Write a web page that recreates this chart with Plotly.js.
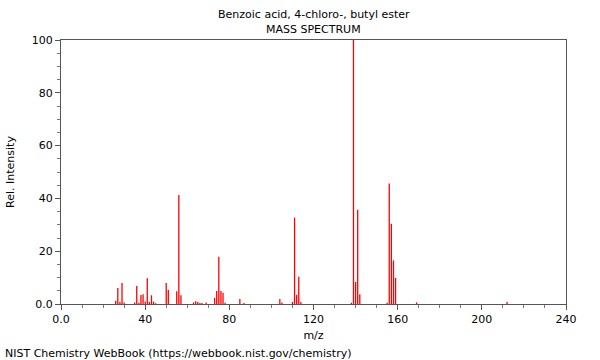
<!DOCTYPE html>
<html>
<head>
<meta charset="utf-8">
<script src="https://cdn.plot.ly/plotly-3.0.1.min.js"></script>
<style>
html,body{margin:0;padding:0;background:#fff;}
#chart{width:600px;height:360px;}
</style>
</head>
<body>
<div id="chart"></div>
<script>
const chartTitle = "Benzoic acid, 4-chloro-, butyl ester";
const chartSubtitle = "MASS SPECTRUM";
const footerText = "NIST Chemistry WebBook (https://webbook.nist.gov/chemistry)";
const xLabel = "m/z";
const yLabel = "Rel. Intensity";

const mz = [26,27,28,29,30,35,36,37,38,39,40,41,42,43,44,45,50,51,55,56,57,63,64,65,66,67,69,73,74,75,76,77,78,85,87,104,105,110,111,112,113,114,138,139,140,141,142,155,156,157,158,159,169,212];
const intensity = [1.2,6.1,0.8,8.0,0.6,0.6,6.8,0.5,3.4,3.7,0.9,9.8,0.8,3.3,0.9,0.3,8.0,5.3,4.8,41.3,3.3,0.6,1.0,0.8,0.4,0.4,0.6,2.3,4.9,17.9,4.9,4.3,0.5,1.9,0.4,1.9,0.6,0.8,32.7,3.5,10.3,0.8,0.5,100,8.4,35.7,3.7,0.5,45.6,30.4,16.5,9.9,0.6,0.8];

// Stick spectrum: each peak drawn as a vertical segment from 0 to its intensity
const stickX = [], stickY = [];
mz.forEach((m, i) => { stickX.push(m, m, null); stickY.push(0, intensity[i], null); });

const trace = {
  type: 'scatter',
  mode: 'lines',
  x: stickX,
  y: stickY,
  line: {color: '#ff0000', width: 1.3},
  connectgaps: false,
  hoverinfo: 'x+y'
};

const font = {family: 'DejaVu Sans, sans-serif', size: 11, color: '#000'};

const layout = {
  width: 600, height: 360,
  margin: {l: 61, r: 34, t: 40, b: 56},
  paper_bgcolor: '#fff', plot_bgcolor: '#fff',
  font: font,
  showlegend: false,
  xaxis: {
    range: [0, 240],
    tickmode: 'linear', tick0: 0, dtick: 40,
    labelalias: {'0': '0.0'},
    ticks: 'outside', ticklen: 5, tickcolor: '#555', tickwidth: 1,
    minor: {dtick: 10, tick0: 0, ticks: 'outside', ticklen: 3, tickcolor: '#777'},
    showline: true, linecolor: '#555', linewidth: 1, mirror: true,
    showgrid: false, zeroline: false,
    tickfont: font,
    title: {text: xLabel, font: font, standoff: 6}
  },
  yaxis: {
    range: [0, 100],
    tickmode: 'linear', tick0: 0, dtick: 20,
    labelalias: {'0': '0.0'},
    ticks: 'outside', ticklen: 5, tickcolor: '#555', tickwidth: 1,
    minor: {dtick: 5, tick0: 0, ticks: 'outside', ticklen: 3, tickcolor: '#777'},
    showline: true, linecolor: '#555', linewidth: 1, mirror: true,
    showgrid: false, zeroline: false,
    tickfont: font,
    title: {text: yLabel, font: font, standoff: 14}
  },
  annotations: [
    {text: chartTitle, xref: 'paper', yref: 'paper', x: 0.5, y: 1.098, xanchor: 'center', yanchor: 'middle', showarrow: false, font: font},
    {text: chartSubtitle, xref: 'paper', yref: 'paper', x: 0.5, y: 1.038, xanchor: 'center', yanchor: 'middle', showarrow: false, font: font},
    {text: footerText, xref: 'paper', yref: 'paper', x: -0.115, y: -0.186, xanchor: 'left', yanchor: 'middle', showarrow: false, font: font}
  ]
};

Plotly.newPlot('chart', [trace], layout, {displayModeBar: false, staticPlot: true});
</script>
</body>
</html>
